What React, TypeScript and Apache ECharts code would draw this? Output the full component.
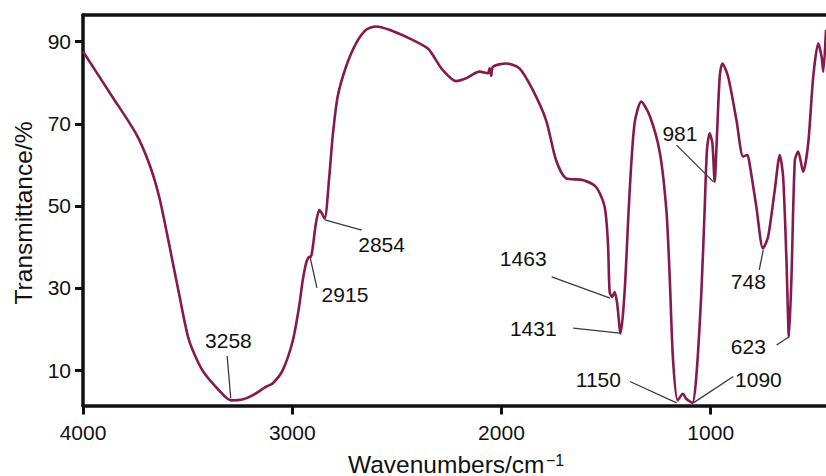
import React, { useEffect, useRef } from "react";
import * as echarts from "echarts";

// Spectrum (wavenumber in cm^-1, transmittance in %)
const wavenumbers = [
  4000, 3860, 3748, 3684, 3636, 3589, 3541, 3493, 3429, 3349, 3293, 3238, 3190, 3126, 3094, 3046,
  2998, 2967, 2951, 2934, 2919, 2912, 2887, 2871, 2860, 2845, 2823, 2807, 2783, 2743, 2695, 2647,
  2600, 2536, 2440, 2353, 2329, 2281, 2217, 2169, 2105, 2065, 2057, 2049, 2041, 1978, 1914, 1850,
  1787, 1739, 1691, 1612, 1548, 1507, 1491, 1483, 1471, 1459, 1447, 1431, 1412, 1388, 1364, 1332,
  1292, 1244, 1212, 1196, 1180, 1158, 1133, 1117, 1088, 1069, 1045, 1029, 1018, 1005, 992, 981,
  973, 957, 944, 917, 877, 845, 825, 813, 782, 750, 726, 694, 670, 654, 638, 626,
  614, 598, 582, 558, 534, 510, 486, 470, 462, 449,
];
const transmittance = [
  87.6, 76.6, 67.7, 60.3, 52.2, 40.8, 28.6, 17.2, 9.9, 5.0, 2.6, 2.8, 3.8, 5.9, 6.7, 9.9,
  17.0, 25.5, 31.5, 36.0, 37.6, 37.5, 45.7, 49.0, 48.3, 46.9, 57.1, 66.8, 76.6, 83.9, 89.6, 92.9,
  93.7, 92.9, 90.8, 88.4, 86.8, 83.1, 80.4, 81.1, 82.7, 82.3, 83.5, 81.7, 83.9, 84.7, 83.5, 78.2,
  70.9, 61.1, 56.7, 56.3, 54.6, 49.8, 40.8, 29.0, 27.8, 29.0, 26.2, 18.9, 28.6, 53.0, 70.1, 75.4,
  72.0, 63.2, 49.0, 32.7, 12.4, 2.6, 4.2, 3.0, 2.0, 8.3, 28.6, 49.0, 63.6, 67.7, 65.2, 55.9,
  63.6, 81.5, 84.7, 81.5, 70.9, 62.0, 62.4, 59.9, 49.8, 39.6, 42.4, 53.8, 62.4, 57.1, 36.8, 18.0,
  32.7, 61.1, 63.2, 58.3, 65.2, 81.5, 89.6, 86.3, 82.7, 92.9,
];

// Tick values
const xTicks = [1000, 2000, 3000, 4000];
const yTicks = [10, 30, 50, 70, 90];

// Peak annotations (in data units)
const peakLabels = ["3258", "2915", "2854", "1463", "1431", "1150", "1090", "981", "748", "623"];
const labelWn = [3305, 2748, 2573, 1896, 1848, 1537, 772, 1147, 820, 820];
const labelT = [17.1, 28.3, 40.5, 37.2, 20.2, 7.6, 7.6, 67.7, 31.5, 15.7];
const leaderFromWn = [3311, 2882, 2668, 1760, 1657, 1386, 892, 1163, 768, 685];
const leaderFromT = [13.4, 30.0, 44.1, 32.7, 20.2, 7.2, 8.4, 64.8, 34.4, 16.1];
const leaderToWn = [3294, 2914, 2844, 1481, 1434, 1163, 1083, 988, 749, 629];
const leaderToT = [3.1, 37.3, 46.6, 27.5, 19.0, 2.0, 2.0, 55.9, 39.2, 18.0];

const FONT = "Liberation Sans, Arial, Helvetica, sans-serif";

export default function App() {
  const ref = useRef<HTMLDivElement>(null);

  useEffect(() => {
    if (!ref.current) return;
    const chart = echarts.init(ref.current, null, { renderer: "svg" });
    const axisColor = "#111";
    const option: any = {
      animation: false,
      backgroundColor: "#fff",
      textStyle: { fontFamily: FONT },
      grid: { left: 83, right: 0, top: 15, bottom: 70.5, containLabel: false },
      xAxis: [
        {
          type: "value",
          inverse: true,
          min: 449,
          max: 4000,
          axisLine: { show: true, lineStyle: { color: axisColor, width: 3.5 } },
          axisTick: { show: true, customValues: xTicks, length: 9, lineStyle: { color: axisColor, width: 3 } },
          axisLabel: {
            customValues: xTicks,
            fontSize: 21,
            margin: 16,
            color: axisColor,
            fontFamily: FONT,
            formatter: (v: number) => String(v),
          },
          splitLine: { show: false },
        },
        {
          type: "value",
          position: "top",
          inverse: true,
          min: 449,
          max: 4000,
          axisLine: { show: true, lineStyle: { color: axisColor, width: 3.5 } },
          axisTick: { show: false },
          axisLabel: { show: false },
          splitLine: { show: false },
        },
      ],
      yAxis: {
        type: "value",
        min: 1.35,
        max: 96.5,
        axisLine: { show: true, lineStyle: { color: axisColor, width: 3.5 } },
        axisTick: { show: true, customValues: yTicks, length: 8, lineStyle: { color: axisColor, width: 3 } },
        axisLabel: {
          customValues: yTicks,
          fontSize: 21,
          margin: 12,
          color: axisColor,
          fontFamily: FONT,
          formatter: (v: number) => String(v),
        },
        splitLine: { show: false },
      },
      series: [
        {
          type: "line",
          data: wavenumbers.map((w, i) => [w, transmittance[i]]),
          showSymbol: false,
          smooth: 0.25,
          lineStyle: { color: "#861a4c", width: 2.6 },
          silent: true,
          z: 3,
        },
        {
          type: "scatter",
          symbolSize: 0,
          silent: true,
          itemStyle: { opacity: 1, color: "#111" },
          data: peakLabels.map((name, i) => ({ name, value: [labelWn[i], labelT[i]] })),
          label: {
            show: true,
            position: "inside",
            formatter: "{b}",
            fontSize: 21,
            color: "#111",
            opacity: 1,
            textBorderWidth: 0,
            fontFamily: FONT,
          },
          markLine: {
            silent: true,
            symbol: ["none", "none"],
            label: { show: false },
            lineStyle: { color: "#3a3a3a", width: 1.3, type: "solid", opacity: 1 },
            data: peakLabels.map((_, i) => [
              { coord: [leaderFromWn[i], leaderFromT[i]] },
              { coord: [leaderToWn[i], leaderToT[i]] },
            ]),
          },
          z: 4,
        },
      ],
      graphic: [
        {
          type: "text",
          x: 23,
          y: 213,
          rotation: Math.PI / 2,
          style: {
            text: "Transmittance/%",
            fontSize: 24.5,
            fill: "#111",
            align: "center",
            verticalAlign: "middle",
            fontFamily: FONT,
          },
        },
        {
          type: "text",
          x: 348,
          y: 464,
          style: {
            text: "Wavenumbers/cm",
            fontSize: 24.5,
            fill: "#111",
            align: "left",
            verticalAlign: "middle",
            fontFamily: FONT,
          },
        },
        {
          type: "text",
          x: 546,
          y: 460,
          style: {
            text: "\u22121",
            fontSize: 16,
            fill: "#111",
            align: "left",
            verticalAlign: "middle",
            fontFamily: FONT,
          },
        },
      ],
    };
    chart.setOption(option);
    return () => chart.dispose();
  }, []);

  return (
    <div
      ref={ref}
      style={{ position: "fixed", left: 0, top: 0, width: 826, height: 476, background: "#fff" }}
    />
  );
}
